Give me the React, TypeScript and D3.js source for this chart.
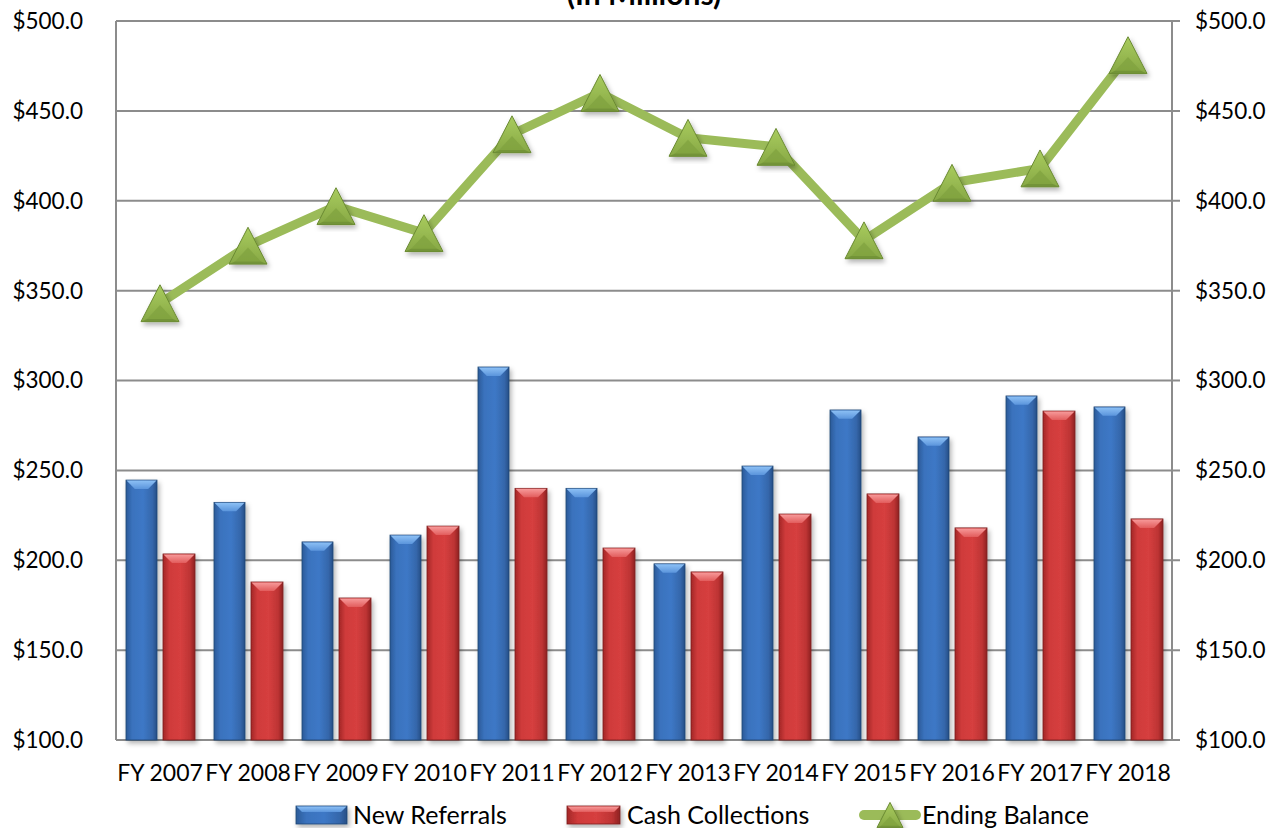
import React from "react";
import * as d3 from "d3";

const categories = ["FY 2007","FY 2008","FY 2009","FY 2010","FY 2011","FY 2012","FY 2013","FY 2014","FY 2015","FY 2016","FY 2017","FY 2018"];
const newReferrals = [244.6, 232.2, 210.2, 214.0, 307.5, 240.0, 198.0, 252.4, 283.6, 268.6, 291.4, 285.3];
const cashCollections = [203.5, 187.9, 179.0, 219.0, 240.0, 206.8, 193.5, 225.7, 236.9, 218.0, 283.0, 223.0];
const endingBalance = [343, 375, 397, 382, 437, 460, 435, 430, 378, 410, 418, 481];
const yTicks = [100, 150, 200, 250, 300, 350, 400, 450, 500];

const W = 1283, H = 828;
const L = 116, R = 1172, T = 21, B = 740;
const FONT = "Lato, 'Open Sans', sans-serif";

function Bar({ x, y, w, h, kind, bevel }: { x: number; y: number; w: number; h: number; kind: "blue" | "red"; bevel?: number }) {
  const bv = bevel ?? Math.min(9, w / 3.5);
  return (
    <g filter="url(#shadow)">
      <rect x={x} y={y} width={w} height={h} fill={`url(#${kind}Body)`} stroke={kind === "blue" ? "#1f4473" : "#7a1c1c"} strokeWidth={0.8} />
      <polygon points={`${x + 0.5},${y + 0.5} ${x + w - 0.5},${y + 0.5} ${x + w - bv},${y + bv} ${x + bv},${y + bv}`} fill={`url(#${kind}Top)`} />
    </g>
  );
}

function Tri({ cx, cy, s }: { cx: number; cy: number; s: number }) {
  const h = s * 0.97;
  const top = cy - h / 2, bot = cy + h / 2;
  const inset = s * 0.16;
  return (
    <g filter="url(#shadow)">
      <polygon points={`${cx},${top} ${cx + s / 2},${bot} ${cx - s / 2},${bot}`} fill="url(#triFill)" stroke="#6a8a32" strokeWidth={1} />
      <polygon points={`${cx},${top + h * 0.55} ${cx + s / 2 - inset},${bot - inset * 0.45} ${cx - s / 2 + inset},${bot - inset * 0.45}`} fill="#7fa13f" opacity={0.7} />
      <polygon points={`${cx - s / 2 + inset},${bot - inset * 0.45} ${cx + s / 2 - inset},${bot - inset * 0.45} ${cx + s / 2},${bot} ${cx - s / 2},${bot}`} fill="#6e8f36" opacity={0.8} />
    </g>
  );
}

export default function App() {
  const x = d3.scaleBand<string>().domain(categories).range([L, R]).paddingInner(0).paddingOuter(0);
  const y = d3.scaleLinear().domain([100, 500]).range([B, T]);
  const bw = 31, gap = 6;
  const line = d3.line<number>().x((_, i) => x(categories[i])! + x.bandwidth() / 2).y((d) => y(d));

  return (
    <svg width={W} height={H} style={{ position: "absolute", left: 0, top: 0, background: "#fff" }}>
      <defs>
        <filter id="shadow" x="-30%" y="-10%" width="160%" height="130%">
          <feDropShadow dx={2} dy={3} stdDeviation={2.5} floodColor="#000" floodOpacity={0.3} />
        </filter>
        <linearGradient id="blueBody" x1="0" x2="1" y1="0" y2="0">
          <stop offset="0" stopColor="#2b5b98" />
          <stop offset="0.2" stopColor="#3a72bd" />
          <stop offset="0.55" stopColor="#3d78c6" />
          <stop offset="0.85" stopColor="#3567ab" />
          <stop offset="1" stopColor="#264f86" />
        </linearGradient>
        <linearGradient id="blueTop" x1="0" x2="0" y1="0" y2="1">
          <stop offset="0" stopColor="#8cc0f5" />
          <stop offset="1" stopColor="#5b95dc" />
        </linearGradient>
        <linearGradient id="redBody" x1="0" x2="1" y1="0" y2="0">
          <stop offset="0" stopColor="#a32828" />
          <stop offset="0.2" stopColor="#cf3a3a" />
          <stop offset="0.55" stopColor="#d63f3f" />
          <stop offset="0.85" stopColor="#bd3434" />
          <stop offset="1" stopColor="#8e2222" />
        </linearGradient>
        <linearGradient id="redTop" x1="0" x2="0" y1="0" y2="1">
          <stop offset="0" stopColor="#f79a9a" />
          <stop offset="1" stopColor="#e25c5c" />
        </linearGradient>
        <linearGradient id="triFill" x1="0" x2="0" y1="0" y2="1">
          <stop offset="0" stopColor="#a9cc5e" />
          <stop offset="1" stopColor="#87a845" />
        </linearGradient>
      </defs>

      <text x={(L + R) / 2} y={5} textAnchor="middle" fontFamily={FONT} fontWeight="bold" fontSize={30} fill="#000">(In Millions)</text>

      {yTicks.map((t) => (
        <g key={t}>
          <line x1={L} x2={R + 8} y1={y(t)} y2={y(t)} stroke="#8c8c8c" strokeWidth={2} />
          <text x={83} y={y(t)} dy="0.35em" textAnchor="end" fontFamily={FONT} fontSize={22.5} fill="#000">{"$" + t.toFixed(1)}</text>
          <text x={1195} y={y(t)} dy="0.35em" textAnchor="start" fontFamily={FONT} fontSize={22.5} fill="#000">{"$" + t.toFixed(1)}</text>
        </g>
      ))}
      <line x1={L} x2={L} y1={T} y2={B} stroke="#8c8c8c" strokeWidth={2} />
      <line x1={R} x2={R} y1={T} y2={B} stroke="#8c8c8c" strokeWidth={2} />

      {categories.map((c, i) => {
        const cx = x(c)! + x.bandwidth() / 2;
        const x0 = cx - (bw * 2 + gap) / 2;
        return (
          <g key={c}>
            <Bar x={x0} y={y(newReferrals[i])} w={bw} h={B - y(newReferrals[i])} kind="blue" />
            <Bar x={x0 + bw + gap} y={y(cashCollections[i])} w={bw + 1} h={B - y(cashCollections[i])} kind="red" />
            <text x={cx} y={773} dy="0.35em" textAnchor="middle" fontFamily={FONT} fontSize={23} fill="#000">{c}</text>
          </g>
        );
      })}

      <path d={line(endingBalance)!} fill="none" stroke="#9bbb59" strokeWidth={9} strokeLinejoin="round" strokeLinecap="round" />
      {endingBalance.map((v, i) => (
        <Tri key={i} cx={x(categories[i])! + x.bandwidth() / 2} cy={y(v)} s={38} />
      ))}

      <g>
        <Bar x={296} y={806} w={51} h={18} kind="blue" bevel={6} />
        <text x={353} y={815} dy="0.35em" fontFamily={FONT} fontSize={25} fill="#000">New Referrals</text>
        <Bar x={567} y={806} w={53} h={18} kind="red" bevel={6} />
        <text x={627} y={815} dy="0.35em" fontFamily={FONT} fontSize={25} fill="#000">Cash Collections</text>
        <line x1={864} x2={916} y1={815} y2={815} stroke="#9bbb59" strokeWidth={10} strokeLinecap="round" />
        <Tri cx={890} cy={815} s={26} />
        <text x={922} y={815} dy="0.35em" fontFamily={FONT} fontSize={25} fill="#000">Ending Balance</text>
      </g>
    </svg>
  );
}
